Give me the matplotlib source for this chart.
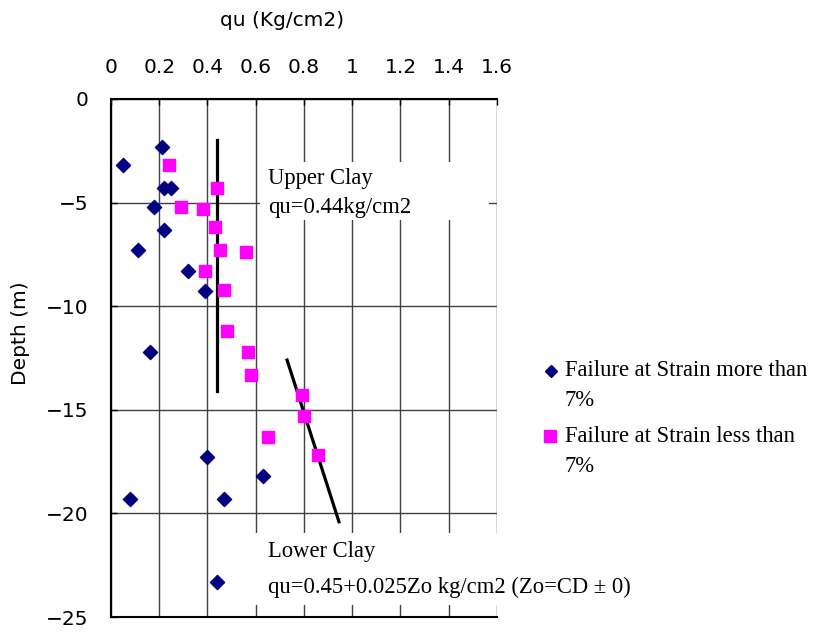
import matplotlib
matplotlib.use("Agg")
import matplotlib.pyplot as plt
from matplotlib.lines import Line2D
from matplotlib.patches import Rectangle

# failure at strain more than 7% (navy diamonds)
qu_more = [0.21, 0.05, 0.22, 0.25, 0.18, 0.22, 0.11, 0.32, 0.39, 0.16, 0.40, 0.63, 0.08, 0.47, 0.44]
depth_more = [-2.3, -3.2, -4.3, -4.3, -5.2, -6.3, -7.3, -8.3, -9.25, -12.2, -17.3, -18.2, -19.3, -19.3, -23.3]

# failure at strain less than 7% (magenta squares)
qu_less = [0.24, 0.44, 0.29, 0.38, 0.43, 0.45, 0.56, 0.39, 0.47, 0.48, 0.57, 0.58, 0.79, 0.80, 0.65, 0.86]
depth_less = [-3.2, -4.3, -5.2, -5.3, -6.2, -7.3, -7.4, -8.3, -9.2, -11.2, -12.2, -13.3, -14.3, -15.3, -16.3, -17.2]

# design lines
upper_qu = [0.44, 0.44]
upper_depth = [-2.0, -14.1]
lower_qu = [0.73, 0.945]
lower_depth = [-12.6, -20.4]

xticks = [0, 0.2, 0.4, 0.6, 0.8, 1.0, 1.2, 1.4, 1.6]
xticklabels = ["0", "0.2", "0.4", "0.6", "0.8", "1", "1.2", "1.4", "1.6"]
yticks = [0, -5, -10, -15, -20, -25]

serif = ["Liberation Serif", "DejaVu Serif"]
fs = 16.3

fig = plt.figure(figsize=(8.16, 6.32), dpi=100)
ax = fig.add_axes([0.136, 0.0237, 0.473, 0.8197])

ax.set_xlim(0, 1.6)
ax.set_ylim(-25, 0)
ax.set_xticks(xticks)
ax.set_xticklabels(xticklabels)
ax.set_yticks(yticks)
ax.xaxis.tick_top()
ax.tick_params(axis="both", direction="in", length=4, width=1, labelsize=14.5, pad=16)
ax.tick_params(axis="x", top=True, bottom=False)
ax.set_axisbelow(True)
ax.grid(True, color="#404040", lw=1.0)

for s in ["left", "top", "bottom"]:
    ax.spines[s].set_linewidth(1.5)
    ax.spines[s].set_zorder(6)
ax.spines["right"].set_visible(False)

# white boxes behind annotation text (they hide the grid)
ax.add_patch(Rectangle((0.617, -5.84), 0.95, 2.8, facecolor="white",
                       edgecolor="none", zorder=1))
ax.add_patch(Rectangle((0.576, -24.42), 1.66, 3.47, facecolor="white",
                       edgecolor="none", zorder=1, clip_on=False))

ax.plot(upper_qu, upper_depth, color="black", lw=2.3, zorder=3)
ax.plot(lower_qu, lower_depth, color="black", lw=2.3, zorder=3)

ax.scatter(qu_more, depth_more, marker="D", s=52, color="#000080", zorder=4)
ax.scatter(qu_less, depth_less, marker="s", s=74, color="#FF00FF", zorder=4)

ax.text(0.65, -3.83, "Upper Clay", family=serif, fontsize=fs, va="center", zorder=5)
ax.text(0.65, -5.26, "qu=0.44kg/cm2", family=serif, fontsize=fs, va="center", zorder=5)
ax.text(0.65, -21.86, "Lower Clay", family=serif, fontsize=fs, va="center", zorder=5)
ax.text(0.65, -23.55, "qu=0.45+0.025Zo kg/cm2 (Zo=CD \u00b1 0)", family=serif,
        fontsize=fs, va="center", zorder=5, clip_on=False)

ax.set_xlabel("qu (Kg/cm2)", fontsize=14.5)
ax.xaxis.set_label_position("top")
ax.xaxis.set_label_coords(0.443, 1.14)
ax.set_ylabel("Depth (m)", fontsize=14.5)
ax.yaxis.set_label_coords(-0.21, 0.548)

# legend drawn by hand: marker next to the first line of each label
W, H = 816, 632
fig.add_artist(Line2D([551 / W], [1 - 371 / H], marker="D", ms=6.3, color="#000080", lw=0))
fig.text(565 / W, 1 - 371 / H, "Failure at Strain more than", family=serif, fontsize=fs, va="center")
fig.text(565 / W, 1 - 401 / H, "7%", family=serif, fontsize=fs, va="center")
fig.add_artist(Line2D([550 / W], [1 - 436 / H], marker="s", ms=8.5, color="#FF00FF", lw=0))
fig.text(565 / W, 1 - 437 / H, "Failure at Strain less than", family=serif, fontsize=fs, va="center")
fig.text(565 / W, 1 - 466 / H, "7%", family=serif, fontsize=fs, va="center")

fig.savefig("out.png", dpi=100)
